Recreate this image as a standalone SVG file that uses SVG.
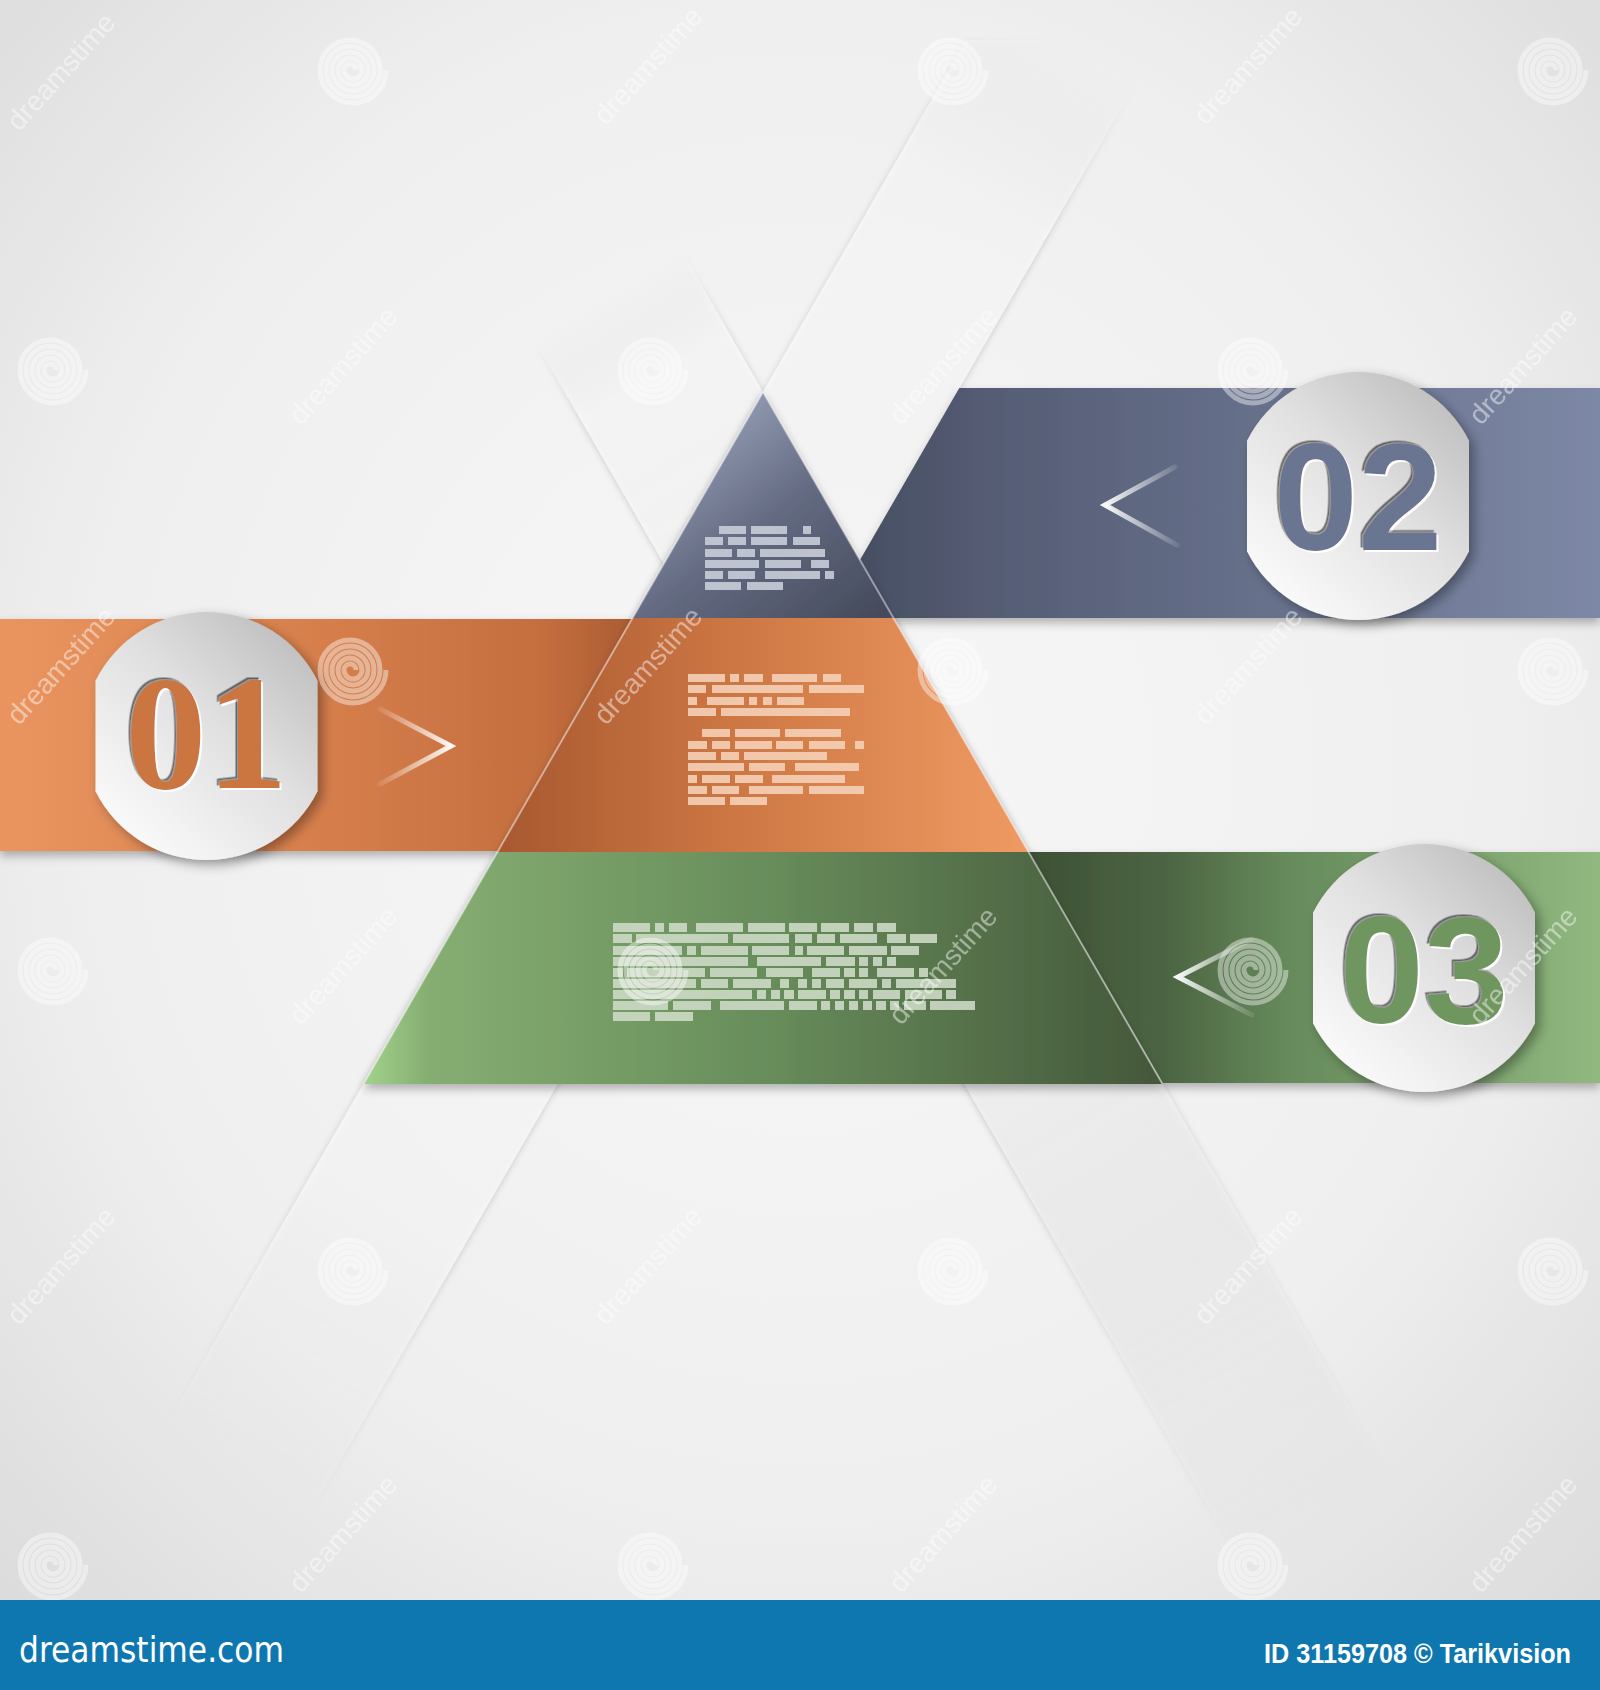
<svg xmlns="http://www.w3.org/2000/svg" xmlns:xlink="http://www.w3.org/1999/xlink" width="1600" height="1690" viewBox="0 0 1600 1690">
<style>
.blk-b{fill:#c6cbd6;opacity:.92}
.blk-o{fill:#f5d0b8;opacity:.9}
.blk-g{fill:#cfdcc8;opacity:.88}
.num{font-family:"Liberation Sans",Arial,sans-serif;font-weight:bold;font-size:152px;text-anchor:middle}
.num1{font-family:"Liberation Serif","Times New Roman",serif;font-weight:bold;font-size:163px;text-anchor:middle}
.chev{fill:none;stroke-width:5;stroke-linecap:round;stroke-linejoin:miter}
.wm{font-family:"Liberation Sans",Arial,sans-serif;font-size:28px;fill:#ffffff;opacity:.45}
.sp{fill:none;stroke:#ffffff;stroke-width:5;opacity:.42}
.edge{fill:none;stroke:#ffffff;stroke-opacity:.45;stroke-width:2}
</style>
<defs>
<radialGradient id="gBg" cx="50%" cy="45%" r="75%">
<stop offset="0" stop-color="#f7f7f7"/>
<stop offset="0.6" stop-color="#efefef"/>
<stop offset="1" stop-color="#d8d8d8"/>
</radialGradient>
<linearGradient id="gStripA" gradientUnits="userSpaceOnUse" x1="1065" y1="40" x2="165" y2="1600">
<stop offset="0" stop-color="#ffffff" stop-opacity="0"/>
<stop offset="0.1" stop-color="#ffffff" stop-opacity="0.6"/>
<stop offset="0.75" stop-color="#ffffff" stop-opacity="0.6"/>
<stop offset="0.92" stop-color="#ffffff" stop-opacity="0"/>
</linearGradient>
<linearGradient id="gStripB" gradientUnits="userSpaceOnUse" x1="606" y1="298" x2="1361" y2="1600">
<stop offset="0" stop-color="#ffffff" stop-opacity="0"/>
<stop offset="0.06" stop-color="#ffffff" stop-opacity="0.6"/>
<stop offset="0.6" stop-color="#f4f4f4" stop-opacity="0.7"/>
<stop offset="0.95" stop-color="#eeeeee" stop-opacity="0"/>
</linearGradient>
<linearGradient id="gBlueBand" gradientUnits="userSpaceOnUse" x1="826" y1="0" x2="1600" y2="0">
<stop offset="0" stop-color="#454b5e"/>
<stop offset="0.25" stop-color="#575f77"/>
<stop offset="1" stop-color="#7d88a6"/>
</linearGradient>
<linearGradient id="gBlueTri" gradientUnits="userSpaceOnUse" x1="700" y1="420" x2="860" y2="630">
<stop offset="0" stop-color="#959eb6"/>
<stop offset="0.45" stop-color="#646b82"/>
<stop offset="1" stop-color="#454b5c"/>
</linearGradient>
<linearGradient id="gOrBand" gradientUnits="userSpaceOnUse" x1="0" y1="0" x2="640" y2="0">
<stop offset="0" stop-color="#ea9560"/>
<stop offset="0.5" stop-color="#d67f4c"/>
<stop offset="0.85" stop-color="#c46e3e"/>
<stop offset="1" stop-color="#a85a31"/>
</linearGradient>
<linearGradient id="gOrMid" gradientUnits="userSpaceOnUse" x1="497" y1="0" x2="1029" y2="0">
<stop offset="0" stop-color="#a85830"/>
<stop offset="0.45" stop-color="#cd7744"/>
<stop offset="1" stop-color="#f09a63"/>
</linearGradient>
<linearGradient id="gGrBot" gradientUnits="userSpaceOnUse" x1="363" y1="0" x2="1163" y2="0">
<stop offset="0" stop-color="#a3d38c"/>
<stop offset="0.08" stop-color="#86ae72"/>
<stop offset="0.5" stop-color="#688d5b"/>
<stop offset="1" stop-color="#44573a"/>
</linearGradient>
<linearGradient id="gGrBand" gradientUnits="userSpaceOnUse" x1="1029" y1="0" x2="1600" y2="0">
<stop offset="0" stop-color="#3d5034"/>
<stop offset="0.25" stop-color="#4d6644"/>
<stop offset="0.45" stop-color="#668a5b"/>
<stop offset="1" stop-color="#90b87f"/>
</linearGradient>
<linearGradient id="gCircle" x1="0.9" y1="0.05" x2="0.15" y2="0.95">
<stop offset="0" stop-color="#bdbdbd"/>
<stop offset="0.45" stop-color="#e0e0e0"/>
<stop offset="1" stop-color="#fbfbfb"/>
</linearGradient>
<linearGradient id="gChevR" x1="0" y1="0" x2="1" y2="0">
<stop offset="0" stop-color="#ffffff" stop-opacity="0.1"/>
<stop offset="1" stop-color="#ffffff" stop-opacity="0.95"/>
</linearGradient>
<linearGradient id="gChevL" x1="1" y1="0" x2="0" y2="0">
<stop offset="0" stop-color="#ffffff" stop-opacity="0.1"/>
<stop offset="1" stop-color="#ffffff" stop-opacity="0.95"/>
</linearGradient>
<filter id="fStrip" x="-20%" y="-10%" width="140%" height="120%">
<feDropShadow dx="0" dy="1" stdDeviation="3" flood-color="#000" flood-opacity="0.3"/>
</filter>
<filter id="fBand" x="-10%" y="-20%" width="120%" height="150%">
<feDropShadow dx="0" dy="5" stdDeviation="5" flood-color="#000" flood-opacity="0.28"/>
</filter>
<filter id="fCircle" x="-20%" y="-20%" width="150%" height="150%">
<feDropShadow dx="5" dy="5" stdDeviation="6" flood-color="#000" flood-opacity="0.35"/>
</filter>
<filter id="fEmboss" x="-10%" y="-10%" width="120%" height="120%">
<feDropShadow dx="-2.5" dy="-2.5" stdDeviation="0.6" flood-color="#000" flood-opacity="0.55"/>
<feDropShadow dx="2" dy="2" stdDeviation="0.4" flood-color="#ffffff" flood-opacity="0.95"/>
</filter>
<symbol id="spiral" overflow="visible">
<path class="sp" d="M6,0 A6,6 0 0 0 -6,0 A9,9 0 0 0 12,0 A12,12 0 0 0 -12,0 A15,15 0 0 0 18,0 A18,18 0 0 0 -18,0 A21,21 0 0 0 24,0 A24,24 0 0 0 -24,0 A27,27 0 0 0 30,0 A30,30 0 0 0 -30,0 A33,33 0 0 0 36,0"/>
</symbol>
</defs>

<rect id="background" x="0" y="0" width="1600" height="1690" fill="url(#gBg)"/>

<g id="strips">
<polygon id="strip-b" points="682.7,253 536,342 1262.4,1600 1460.4,1600" fill="url(#gStripB)" filter="url(#fStrip)"/>
<polygon id="strip-a" points="966.2,40 1160.2,40 259.6,1600 65.6,1600" fill="url(#gStripA)" filter="url(#fStrip)"/>
</g>

<g id="bands" filter="url(#fBand)">
<polygon id="band-02" points="959.3,388 1600,388 1600,618 826.5,618" fill="url(#gBlueBand)"/>
<polygon id="band-01" points="0,619 632,619 498,851 0,851" fill="url(#gOrBand)"/>
<polygon id="band-03" points="1028.6,852 1600,852 1600,1083 1162.5,1083" fill="url(#gGrBand)"/>
</g>

<g id="pyramid" filter="url(#fBand)">
<polygon id="tier-top" points="763,392 893.5,618 632.5,618" fill="url(#gBlueTri)"/>
<polygon id="tier-middle" points="632.5,618 893.5,618 1028.6,852 497.4,852" fill="url(#gOrMid)"/>
<polygon id="tier-bottom" points="497.4,852 1028.6,852 1162.5,1084 363.5,1084" fill="url(#gGrBot)"/>
</g>
<path class="edge" d="M763,392 L363.5,1084 M763,392 L1162.5,1084"/>

<g id="text-top">
<rect class="blk-b" x="719" y="526" width="27" height="8"/><rect class="blk-b" x="751" y="526" width="36" height="8"/><rect class="blk-b" x="803" y="526" width="8" height="8"/>
<rect class="blk-b" x="705" y="537" width="18" height="8"/><rect class="blk-b" x="728" y="537" width="18" height="8"/><rect class="blk-b" x="751" y="537" width="36" height="8"/><rect class="blk-b" x="793" y="537" width="27" height="8"/>
<rect class="blk-b" x="705" y="549" width="27" height="8"/><rect class="blk-b" x="737" y="549" width="18" height="8"/><rect class="blk-b" x="760" y="549" width="65" height="8"/>
<rect class="blk-b" x="705" y="560" width="54" height="8"/><rect class="blk-b" x="765" y="560" width="36" height="8"/><rect class="blk-b" x="811" y="560" width="18" height="8"/>
<rect class="blk-b" x="705" y="571" width="18" height="8"/><rect class="blk-b" x="728" y="571" width="27" height="8"/><rect class="blk-b" x="765" y="571" width="55" height="8"/><rect class="blk-b" x="825" y="571" width="9" height="8"/>
<rect class="blk-b" x="705" y="582" width="36" height="8"/><rect class="blk-b" x="747" y="582" width="36" height="8"/>
</g>

<g id="text-middle">
<rect class="blk-o" x="688" y="674" width="37" height="8"/><rect class="blk-o" x="730" y="674" width="9" height="8"/><rect class="blk-o" x="744" y="674" width="19" height="8"/><rect class="blk-o" x="772" y="674" width="45" height="8"/><rect class="blk-o" x="823" y="674" width="18" height="8"/>
<rect class="blk-o" x="688" y="685" width="18" height="8"/><rect class="blk-o" x="712" y="685" width="91" height="8"/><rect class="blk-o" x="809" y="685" width="55" height="8"/>
<rect class="blk-o" x="688" y="697" width="9" height="8"/><rect class="blk-o" x="707" y="697" width="37" height="8"/><rect class="blk-o" x="749" y="697" width="8" height="8"/><rect class="blk-o" x="763" y="697" width="9" height="8"/><rect class="blk-o" x="777" y="697" width="27" height="8"/>
<rect class="blk-o" x="688" y="708" width="28" height="8"/><rect class="blk-o" x="721" y="708" width="129" height="8"/>
<rect class="blk-o" x="702" y="729" width="28" height="8"/><rect class="blk-o" x="735" y="729" width="45" height="8"/><rect class="blk-o" x="785" y="729" width="56" height="8"/>
<rect class="blk-o" x="688" y="741" width="19" height="8"/><rect class="blk-o" x="712" y="741" width="18" height="8"/><rect class="blk-o" x="735" y="741" width="37" height="8"/><rect class="blk-o" x="776" y="741" width="27" height="8"/><rect class="blk-o" x="809" y="741" width="36" height="8"/><rect class="blk-o" x="855" y="741" width="9" height="8"/>
<rect class="blk-o" x="688" y="752" width="28" height="8"/><rect class="blk-o" x="721" y="752" width="18" height="8"/><rect class="blk-o" x="744" y="752" width="83" height="8"/>
<rect class="blk-o" x="688" y="763" width="56" height="8"/><rect class="blk-o" x="749" y="763" width="36" height="8"/><rect class="blk-o" x="795" y="763" width="64" height="8"/>
<rect class="blk-o" x="688" y="775" width="9" height="8"/><rect class="blk-o" x="702" y="775" width="28" height="8"/><rect class="blk-o" x="735" y="775" width="28" height="8"/><rect class="blk-o" x="772" y="775" width="73" height="8"/>
<rect class="blk-o" x="688" y="786" width="19" height="8"/><rect class="blk-o" x="712" y="786" width="27" height="8"/><rect class="blk-o" x="749" y="786" width="54" height="8"/><rect class="blk-o" x="809" y="786" width="55" height="8"/>
<rect class="blk-o" x="688" y="797" width="37" height="8"/><rect class="blk-o" x="730" y="797" width="37" height="8"/>
</g>

<g id="text-bottom">
<rect class="blk-g" x="613" y="923" width="37" height="9"/><rect class="blk-g" x="655" y="923" width="9" height="9"/><rect class="blk-g" x="669" y="923" width="18" height="9"/><rect class="blk-g" x="696" y="923" width="47" height="9"/><rect class="blk-g" x="748" y="923" width="37" height="9"/><rect class="blk-g" x="789" y="923" width="28" height="9"/><rect class="blk-g" x="821" y="923" width="28" height="9"/><rect class="blk-g" x="854" y="923" width="19" height="9"/><rect class="blk-g" x="877" y="923" width="19" height="9"/>
<rect class="blk-g" x="613" y="934" width="19" height="9"/><rect class="blk-g" x="636" y="934" width="92" height="9"/><rect class="blk-g" x="733" y="934" width="56" height="9"/><rect class="blk-g" x="795" y="934" width="17" height="9"/><rect class="blk-g" x="817" y="934" width="18" height="9"/><rect class="blk-g" x="840" y="934" width="37" height="9"/><rect class="blk-g" x="887" y="934" width="19" height="9"/><rect class="blk-g" x="910" y="934" width="27" height="9"/>
<rect class="blk-g" x="613" y="946" width="69" height="9"/><rect class="blk-g" x="687" y="946" width="9" height="9"/><rect class="blk-g" x="701" y="946" width="47" height="9"/><rect class="blk-g" x="752" y="946" width="37" height="9"/><rect class="blk-g" x="795" y="946" width="8" height="9"/><rect class="blk-g" x="807" y="946" width="37" height="9"/><rect class="blk-g" x="849" y="946" width="38" height="9"/><rect class="blk-g" x="891" y="946" width="28" height="9"/>
<rect class="blk-g" x="613" y="957" width="135" height="9"/><rect class="blk-g" x="757" y="957" width="64" height="9"/><rect class="blk-g" x="826" y="957" width="29" height="9"/><rect class="blk-g" x="859" y="957" width="9" height="9"/><rect class="blk-g" x="873" y="957" width="9" height="9"/><rect class="blk-g" x="887" y="957" width="9" height="9"/>
<rect class="blk-g" x="613" y="968" width="10" height="9"/><rect class="blk-g" x="627" y="968" width="78" height="9"/><rect class="blk-g" x="710" y="968" width="47" height="9"/><rect class="blk-g" x="766" y="968" width="37" height="9"/><rect class="blk-g" x="812" y="968" width="28" height="9"/><rect class="blk-g" x="844" y="968" width="11" height="9"/><rect class="blk-g" x="859" y="968" width="9" height="9"/><rect class="blk-g" x="877" y="968" width="37" height="9"/><rect class="blk-g" x="919" y="968" width="9" height="9"/>
<rect class="blk-g" x="613" y="979" width="83" height="9"/><rect class="blk-g" x="701" y="979" width="27" height="9"/><rect class="blk-g" x="733" y="979" width="38" height="9"/><rect class="blk-g" x="780" y="979" width="9" height="9"/><rect class="blk-g" x="798" y="979" width="9" height="9"/><rect class="blk-g" x="812" y="979" width="9" height="9"/><rect class="blk-g" x="826" y="979" width="18" height="9"/><rect class="blk-g" x="849" y="979" width="28" height="9"/><rect class="blk-g" x="882" y="979" width="9" height="9"/><rect class="blk-g" x="896" y="979" width="60" height="9"/>
<rect class="blk-g" x="613" y="990" width="139" height="9"/><rect class="blk-g" x="757" y="990" width="9" height="9"/><rect class="blk-g" x="771" y="990" width="9" height="9"/><rect class="blk-g" x="784" y="990" width="10" height="9"/><rect class="blk-g" x="798" y="990" width="28" height="9"/><rect class="blk-g" x="830" y="990" width="10" height="9"/><rect class="blk-g" x="844" y="990" width="11" height="9"/><rect class="blk-g" x="859" y="990" width="9" height="9"/><rect class="blk-g" x="873" y="990" width="27" height="9"/><rect class="blk-g" x="905" y="990" width="37" height="9"/><rect class="blk-g" x="946" y="990" width="10" height="9"/>
<rect class="blk-g" x="613" y="1001" width="55" height="9"/><rect class="blk-g" x="673" y="1001" width="38" height="9"/><rect class="blk-g" x="720" y="1001" width="64" height="9"/><rect class="blk-g" x="789" y="1001" width="28" height="9"/><rect class="blk-g" x="821" y="1001" width="9" height="9"/><rect class="blk-g" x="835" y="1001" width="9" height="9"/><rect class="blk-g" x="849" y="1001" width="9" height="9"/><rect class="blk-g" x="863" y="1001" width="9" height="9"/><rect class="blk-g" x="876" y="1001" width="10" height="9"/><rect class="blk-g" x="890" y="1001" width="9" height="9"/><rect class="blk-g" x="904" y="1001" width="22" height="9"/><rect class="blk-g" x="930" y="1001" width="45" height="9"/>
<rect class="blk-g" x="613" y="1012" width="37" height="9"/><rect class="blk-g" x="655" y="1012" width="38" height="9"/>
</g>

<g id="chevrons">
<polyline id="chevron-01" class="chev" stroke="url(#gChevR)" points="380,709 451,746 380,784"/>
<polyline id="chevron-02" class="chev" stroke="url(#gChevL)" points="1175,467 1105,505 1177,545"/>
<polyline id="chevron-03" class="chev" stroke="url(#gChevL)" points="1252,939 1178,977 1252,1015"/>
</g>

<g id="badge-01" filter="url(#fCircle)">
<path d="M95.5,680.7 A124,124 0 0 1 317.5,680.7 L317.5,791.3 A124,124 0 0 1 95.5,791.3 Z" fill="url(#gCircle)"/>
<text class="num1" x="206.5" y="788" fill="#cb7641" filter="url(#fEmboss)">01</text>
</g>
<g id="badge-02" filter="url(#fCircle)">
<path d="M1247,440.7 A124,124 0 0 1 1469,440.7 L1469,551.3 A124,124 0 0 1 1247,551.3 Z" fill="url(#gCircle)"/>
<text class="num" x="1358" y="550" fill="#6b7591" filter="url(#fEmboss)">02</text>
</g>
<g id="badge-03" filter="url(#fCircle)">
<path d="M1313,912.7 A124,124 0 0 1 1535,912.7 L1535,1023.3 A124,124 0 0 1 1313,1023.3 Z" fill="url(#gCircle)"/>
<text class="num" x="1424" y="1023" fill="#6f9661" filter="url(#fEmboss)">03</text>
</g>

<g id="watermark">
<use xlink:href="#spiral" href="#spiral" x="350" y="70"/>
<use xlink:href="#spiral" href="#spiral" x="950" y="70"/>
<use xlink:href="#spiral" href="#spiral" x="1550" y="70"/>
<use xlink:href="#spiral" href="#spiral" x="50" y="370"/>
<use xlink:href="#spiral" href="#spiral" x="650" y="370"/>
<use xlink:href="#spiral" href="#spiral" x="1250" y="370"/>
<use xlink:href="#spiral" href="#spiral" x="350" y="670"/>
<use xlink:href="#spiral" href="#spiral" x="950" y="670"/>
<use xlink:href="#spiral" href="#spiral" x="1550" y="670"/>
<use xlink:href="#spiral" href="#spiral" x="50" y="970"/>
<use xlink:href="#spiral" href="#spiral" x="650" y="970"/>
<use xlink:href="#spiral" href="#spiral" x="1250" y="970"/>
<use xlink:href="#spiral" href="#spiral" x="350" y="1270"/>
<use xlink:href="#spiral" href="#spiral" x="950" y="1270"/>
<use xlink:href="#spiral" href="#spiral" x="1550" y="1270"/>
<use xlink:href="#spiral" href="#spiral" x="50" y="1565"/>
<use xlink:href="#spiral" href="#spiral" x="650" y="1565"/>
<use xlink:href="#spiral" href="#spiral" x="1250" y="1565"/>
<text class="wm" text-anchor="middle" transform="translate(68,78) rotate(-48)">dreamstime</text>
<text class="wm" text-anchor="middle" transform="translate(655,72) rotate(-48)">dreamstime</text>
<text class="wm" text-anchor="middle" transform="translate(1255,72) rotate(-48)">dreamstime</text>
<text class="wm" text-anchor="middle" transform="translate(350,372) rotate(-48)">dreamstime</text>
<text class="wm" text-anchor="middle" transform="translate(950,372) rotate(-48)">dreamstime</text>
<text class="wm" text-anchor="middle" transform="translate(1530,372) rotate(-48)">dreamstime</text>
<text class="wm" text-anchor="middle" transform="translate(68,672) rotate(-48)">dreamstime</text>
<text class="wm" text-anchor="middle" transform="translate(655,672) rotate(-48)">dreamstime</text>
<text class="wm" text-anchor="middle" transform="translate(1255,672) rotate(-48)">dreamstime</text>
<text class="wm" text-anchor="middle" transform="translate(350,972) rotate(-48)">dreamstime</text>
<text class="wm" text-anchor="middle" transform="translate(950,972) rotate(-48)">dreamstime</text>
<text class="wm" text-anchor="middle" transform="translate(1530,972) rotate(-48)">dreamstime</text>
<text class="wm" text-anchor="middle" transform="translate(68,1272) rotate(-48)">dreamstime</text>
<text class="wm" text-anchor="middle" transform="translate(655,1272) rotate(-48)">dreamstime</text>
<text class="wm" text-anchor="middle" transform="translate(1255,1272) rotate(-48)">dreamstime</text>
<text class="wm" text-anchor="middle" transform="translate(350,1540) rotate(-48)">dreamstime</text>
<text class="wm" text-anchor="middle" transform="translate(950,1540) rotate(-48)">dreamstime</text>
<text class="wm" text-anchor="middle" transform="translate(1530,1540) rotate(-48)">dreamstime</text>
</g>

<g id="footer">
<rect x="0" y="1600" width="1600" height="90" fill="#0f77b0"/>
<text x="19" y="1662" font-family="'DejaVu Sans','Liberation Sans',sans-serif" font-size="36" fill="#ffffff" textLength="265" lengthAdjust="spacingAndGlyphs">dreamstime.com</text>
<text x="1264" y="1663" font-family="'Liberation Sans',Arial,sans-serif" font-weight="bold" font-size="27" fill="#ffffff" textLength="307" lengthAdjust="spacingAndGlyphs">ID 31159708 © Tarikvision</text>
</g>
</svg>
